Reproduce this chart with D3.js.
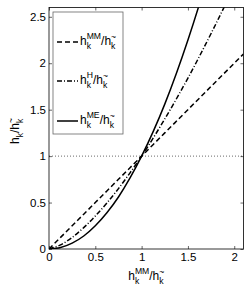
<!DOCTYPE html>
<html>
<head>
<script src="https://d3js.org/d3.v7.min.js"></script>
<style>
  body { margin: 0; background: #fff; font-family: "Liberation Sans", Arial, Helvetica, sans-serif; }
  svg text { font-family: "Liberation Sans", Arial, Helvetica, sans-serif; fill: #000; }
</style>
</head>
<body>
<svg width="249" height="295"></svg>
<script>
// values
const xs      = [0, 0.125, 0.25, 0.375, 0.5, 0.625, 0.75, 0.875, 1, 1.25, 1.5, 1.75, 2, 2.1];
const mmRatio = [0, 0.125, 0.25, 0.375, 0.5, 0.625, 0.75, 0.875, 1, 1.25, 1.5, 1.75, 2, 2.1];
const hRatio  = [0, 0.045, 0.125, 0.23, 0.355, 0.495, 0.65, 0.82, 1, 1.4, 1.84, 2.32, 2.83, 3.04];
const meRatio = [0, 0.016, 0.063, 0.14, 0.25, 0.39, 0.56, 0.765, 1, 1.56, 2.25, 3.06, 4.0, 4.41];
const xTicks = [0, 0.5, 1, 1.5, 2];
const yTicks = [0, 0.5, 1, 1.5, 2, 2.5];

const series = [
  { name: "MM", ys: mmRatio, dash: "5,3" },
  { name: "H",  ys: hRatio,  dash: "5,2,1,2" },
  { name: "ME", ys: meRatio, dash: null }
];

const svg = d3.select("svg");
const L = 49, R = 243.5, T = 7.5, B = 249;

const x = d3.scaleLinear().domain([0, 2.1]).range([L, R]);
const y = d3.scaleLinear().domain([0, 2.6]).range([B, T]);

svg.append("clipPath").attr("id", "clip")
  .append("rect").attr("x", L).attr("y", T).attr("width", R - L).attr("height", B - T);

// dotted reference line at 1
svg.append("line")
  .attr("x1", x(0)).attr("x2", x(2.1)).attr("y1", y(1)).attr("y2", y(1))
  .attr("stroke", "#444").attr("stroke-width", 0.8).attr("stroke-dasharray", "1,2");

const line = d3.line()
  .x((d, i) => x(xs[i]))
  .y(d => y(d))
  .curve(d3.curveMonotoneX);

svg.append("g").attr("clip-path", "url(#clip)")
  .selectAll("path").data(series).enter().append("path")
  .attr("d", d => line(d.ys))
  .attr("fill", "none").attr("stroke", "#000").attr("stroke-width", 1.5)
  .attr("stroke-dasharray", d => d.dash);

// axes, matlab style ticks inward on all sides
const tickLen = 3;
svg.append("g").attr("transform", `translate(0,${B})`)
  .call(d3.axisBottom(x).tickValues(xTicks).tickSizeInner(-tickLen).tickSizeOuter(0).tickPadding(4).tickFormat(d3.format("")))
  .call(g => g.select(".domain").remove());
svg.append("g").attr("transform", `translate(0,${T})`)
  .call(d3.axisTop(x).tickValues(xTicks).tickSizeInner(-tickLen).tickSizeOuter(0).tickFormat(""))
  .call(g => g.select(".domain").remove());
svg.append("g").attr("transform", `translate(${L},0)`)
  .call(d3.axisLeft(y).tickValues(yTicks).tickSizeInner(-tickLen).tickSizeOuter(0).tickPadding(3).tickFormat(d3.format("")))
  .call(g => g.select(".domain").remove());
svg.append("g").attr("transform", `translate(${R},0)`)
  .call(d3.axisRight(y).tickValues(yTicks).tickSizeInner(-tickLen).tickSizeOuter(0).tickFormat(""))
  .call(g => g.select(".domain").remove());
svg.selectAll(".tick text").attr("font-size", 11.5).style("font-family", "Liberation Sans, Arial");
svg.selectAll(".tick line").attr("stroke", "#000").attr("stroke-width", 0.6);

svg.append("rect").attr("x", L).attr("y", T).attr("width", R - L).attr("height", B - T)
  .attr("fill", "none").attr("stroke", "#000").attr("stroke-width", 0.8);

// h_k^{sup}/h_k^~ built from pieces so sub and sup sit stacked
function ratioLabel(g, sup, size) {
  const small = size * 0.72;
  let cx = 0;
  const piece = (txt, fs, dy) => {
    const t = g.append("text").attr("x", cx).attr("y", dy).attr("font-size", fs).text(txt);
    return t.node().getComputedTextLength();
  };
  cx += piece("h", size, 0);
  const w1 = piece(sup, small, -size * 0.5);
  const w2 = piece("k", small, size * 0.35);
  cx += Math.max(w1, w2);
  cx += piece("/h", size, 0);
  const w3 = piece("~", small, -size * 0.45);
  const w4 = piece("k", small, size * 0.35);
  cx += Math.max(w3, w4);
  return cx;
}

// legend
const lg = svg.append("g");
lg.append("rect").attr("x", 53).attr("y", 12).attr("width", 70).attr("height", 122)
  .attr("fill", "#fff").attr("stroke", "#666").attr("stroke-width", 0.8);
const legY = [45, 84, 124];
series.forEach((s, i) => {
  lg.append("line").attr("x1", 57).attr("x2", 78).attr("y1", legY[i] - 3).attr("y2", legY[i] - 3)
    .attr("stroke", "#000").attr("stroke-width", 1.5).attr("stroke-dasharray", s.dash);
  const tg = lg.append("g").attr("transform", `translate(80,${legY[i]})`);
  ratioLabel(tg, s.name, 12);
});

// axis titles
const xl = svg.append("g");
const w = ratioLabel(xl, "MM", 12);
xl.attr("transform", `translate(${(L + R) / 2 - w / 2},280)`);

const yl = svg.append("g");
const yg = yl.append("g");
let cx = 0;
const p1 = yg.append("text").attr("x", 0).attr("font-size", 12).text("h");
cx += p1.node().getComputedTextLength();
const p2 = yg.append("text").attr("x", cx).attr("y", 4).attr("font-size", 8.6).text("k");
cx += p2.node().getComputedTextLength();
const p3 = yg.append("text").attr("x", cx).attr("font-size", 12).text("/h");
cx += p3.node().getComputedTextLength();
yg.append("text").attr("x", cx).attr("y", -5.5).attr("font-size", 8.6).text("~");
yg.append("text").attr("x", cx).attr("y", 4).attr("font-size", 8.6).text("k");
cx += 5;
yl.attr("transform", `translate(19,${131 + cx / 2}) rotate(-90)`);
</script>
</body>
</html>
